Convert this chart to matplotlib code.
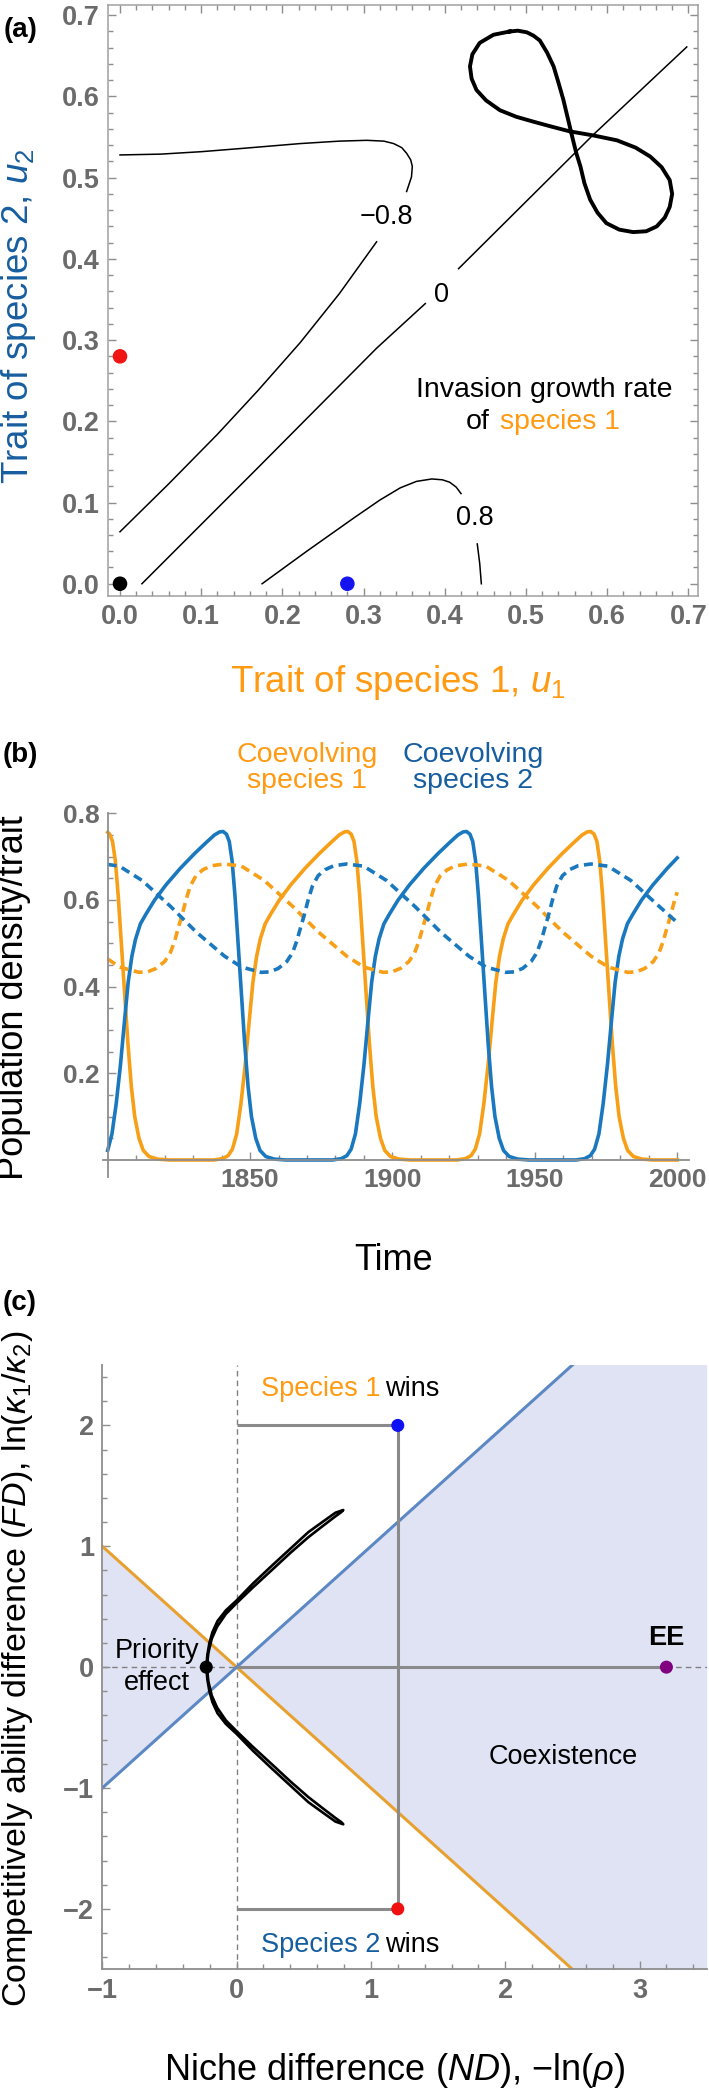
import matplotlib
matplotlib.use("Agg")
import numpy as np
import matplotlib.pyplot as plt
from matplotlib.ticker import MultipleLocator, FixedLocator

plt.rcParams["font.family"] = ["Liberation Sans", "DejaVu Sans"]
plt.rcParams["mathtext.fontset"] = "custom"
plt.rcParams["mathtext.rm"] = "Liberation Sans"
plt.rcParams["mathtext.it"] = "Liberation Sans:italic"
plt.rcParams["mathtext.bf"] = "Liberation Sans:bold"
plt.rcParams["lines.scale_dashes"] = False

# ---------------- panel (a): invasion growth rate contours ----------------
neg08_upper_x = [0.0, 0.05, 0.10, 0.15, 0.222, 0.27, 0.304, 0.325, 0.337, 0.347, 0.353, 0.358, 0.360, 0.359, 0.353]
neg08_upper_y = [0.528, 0.529, 0.532, 0.536, 0.542, 0.545, 0.546, 0.545, 0.542, 0.537, 0.530, 0.522, 0.514, 0.501, 0.483]
neg08_lower_x = [0.0, 0.06, 0.12, 0.17, 0.222, 0.27, 0.316]
neg08_lower_y = [0.064, 0.123, 0.184, 0.238, 0.297, 0.357, 0.421]
zero_lower_x = [0.027, 0.17, 0.316, 0.376]
zero_lower_y = [0.0, 0.143, 0.290, 0.345]
zero_upper_x = [0.417, 0.583, 0.698]
zero_upper_y = [0.388, 0.553, 0.661]
pos08_x = [0.175, 0.23, 0.288, 0.320, 0.345, 0.365, 0.384, 0.397, 0.406, 0.414, 0.420]
pos08_y = [0.0, 0.040, 0.081, 0.103, 0.118, 0.126, 0.129, 0.128, 0.125, 0.119, 0.111]
pos08_stub_x = [0.440, 0.443, 0.445]
pos08_stub_y = [0.049, 0.025, 0.0]
contour_labels = ["\u22120.8", "0", "0.8"]
contour_label_x = [0.328, 0.396, 0.437]
contour_label_y = [0.452, 0.3555, 0.081]

# coevolutionary cycle of the traits (figure eight)
eight_u1 = [0.480, 0.460, 0.443, 0.434, 0.431, 0.433, 0.439, 0.451, 0.468, 0.488, 0.509, 0.531,
            0.554, 0.583, 0.612, 0.635, 0.653, 0.667, 0.677, 0.680, 0.677, 0.671, 0.661, 0.648,
            0.632, 0.615, 0.599, 0.588, 0.579, 0.572, 0.567, 0.562, 0.558, 0.552, 0.546, 0.540,
            0.534, 0.526, 0.517, 0.509, 0.501, 0.490, 0.480]
eight_u2 = [0.680, 0.676, 0.666, 0.652, 0.637, 0.622, 0.608, 0.595, 0.583, 0.575, 0.569, 0.563,
            0.557, 0.552, 0.546, 0.537, 0.526, 0.513, 0.497, 0.480, 0.464, 0.451, 0.440, 0.434,
            0.433, 0.436, 0.444, 0.457, 0.473, 0.493, 0.514, 0.530, 0.546, 0.571, 0.596, 0.617,
            0.637, 0.654, 0.669, 0.675, 0.679, 0.681, 0.680]
dots_a_x = [0.0, 0.0, 0.28]
dots_a_y = [0.0, 0.28, 0.0]
dots_a_c = ["black", "#F01414", "#1414F0"]

# ---------------- panel (b): time series ----------------
t_n1 = [1800.0, 1800.7, 1801.7, 1802.7, 1803.7, 1804.8, 1806.0, 1807.1, 1808.3, 1809.5, 1811.0, 1812.5,
        1814.5, 1817.5, 1821.5, 1837.3, 1840.3, 1842.3, 1843.8, 1845.3, 1846.8, 1848.3, 1849.7, 1851.0,
        1852.3, 1853.6, 1855.3, 1857.3, 1860.3, 1864.3, 1869.3, 1874.3, 1878.3, 1881.3, 1883.1, 1884.3,
        1885.5, 1886.5, 1887.5, 1888.5, 1889.6, 1890.8, 1891.9, 1893.1, 1894.3, 1895.8, 1897.3, 1899.3,
        1902.3, 1906.3, 1922.6, 1925.6, 1927.6, 1929.1, 1930.6, 1932.1, 1933.6, 1935.0, 1936.3, 1937.6,
        1938.9, 1940.6, 1942.6, 1945.6, 1949.6, 1954.6, 1959.6, 1963.6, 1966.6, 1968.4, 1969.6, 1970.8,
        1971.8, 1972.8, 1973.8, 1974.9, 1976.1, 1977.2, 1978.4, 1979.6, 1981.1, 1982.6, 1984.6, 1987.6,
        1991.6, 2000.0]
n1 = [0.756, 0.752, 0.735, 0.69, 0.61, 0.50, 0.38, 0.27, 0.17, 0.10, 0.05, 0.022,
      0.008, 0.002, 0.0, 0.0, 0.003, 0.01, 0.025, 0.06, 0.13, 0.22, 0.32, 0.41,
      0.47, 0.51, 0.545, 0.568, 0.60, 0.635, 0.673, 0.707, 0.732, 0.750, 0.757, 0.758,
      0.752, 0.735, 0.69, 0.61, 0.50, 0.38, 0.27, 0.17, 0.10, 0.05, 0.022, 0.008,
      0.002, 0.0, 0.0, 0.003, 0.01, 0.025, 0.06, 0.13, 0.22, 0.32, 0.41, 0.47,
      0.51, 0.545, 0.568, 0.60, 0.635, 0.673, 0.707, 0.732, 0.750, 0.757, 0.758, 0.752,
      0.735, 0.69, 0.61, 0.50, 0.38, 0.27, 0.17, 0.10, 0.05, 0.022, 0.008, 0.002,
      0.0, 0.0]
t_n2 = [1800.0, 1801.5, 1803.0, 1804.5, 1805.9, 1807.2, 1808.5, 1809.8, 1811.5, 1813.5, 1816.5, 1820.5,
        1825.5, 1830.5, 1834.5, 1837.5, 1839.3, 1840.5, 1841.7, 1842.7, 1843.7, 1844.7, 1845.8, 1847.0,
        1848.1, 1849.3, 1850.5, 1852.0, 1853.5, 1855.5, 1858.5, 1862.5, 1879.0, 1882.0, 1884.0, 1885.5,
        1887.0, 1888.5, 1890.0, 1891.4, 1892.7, 1894.0, 1895.3, 1897.0, 1899.0, 1902.0, 1906.0, 1911.0,
        1916.0, 1920.0, 1923.0, 1924.8, 1926.0, 1927.2, 1928.2, 1929.2, 1930.2, 1931.3, 1932.5, 1933.6,
        1934.8, 1936.0, 1937.5, 1939.0, 1941.0, 1944.0, 1948.0, 1964.5, 1967.5, 1969.5, 1971.0, 1972.5,
        1974.0, 1975.5, 1976.9, 1978.2, 1979.5, 1980.8, 1982.5, 1984.5, 1987.5, 1991.5, 1996.5, 2000.0]
n2 = [0.022, 0.06, 0.13, 0.22, 0.32, 0.41, 0.47, 0.51, 0.545, 0.568, 0.60, 0.635,
      0.673, 0.707, 0.732, 0.750, 0.757, 0.758, 0.752, 0.735, 0.69, 0.61, 0.50, 0.38,
      0.27, 0.17, 0.10, 0.05, 0.022, 0.008, 0.002, 0.0, 0.0, 0.003, 0.01, 0.025,
      0.06, 0.13, 0.22, 0.32, 0.41, 0.47, 0.51, 0.545, 0.568, 0.60, 0.635, 0.673,
      0.707, 0.732, 0.750, 0.757, 0.758, 0.752, 0.735, 0.69, 0.61, 0.50, 0.38, 0.27,
      0.17, 0.10, 0.05, 0.022, 0.008, 0.002, 0.0, 0.0, 0.003, 0.01, 0.025, 0.06,
      0.13, 0.22, 0.32, 0.41, 0.47, 0.51, 0.545, 0.568, 0.60, 0.635, 0.673, 0.697]
t_u1 = [1800.0, 1804.2, 1811.0, 1814.0, 1817.0, 1820.0, 1822.0, 1823.5, 1825.0, 1826.0, 1827.5, 1829.0,
        1831.0, 1833.5, 1836.5, 1841.0, 1847.0, 1855.0, 1865.0, 1874.0, 1884.0, 1890.0, 1896.8, 1899.8,
        1902.8, 1905.8, 1907.8, 1909.3, 1910.8, 1911.8, 1913.3, 1914.8, 1916.8, 1919.3, 1922.3, 1926.8,
        1932.8, 1940.8, 1950.8, 1959.8, 1969.8, 1975.8, 1982.6, 1985.6, 1988.6, 1991.6, 1993.6, 1995.1,
        1996.6, 1997.6, 1999.1, 2000.0]
u1 = [0.464, 0.445, 0.433, 0.434, 0.442, 0.458, 0.478, 0.505, 0.540, 0.562, 0.600, 0.632,
      0.656, 0.670, 0.679, 0.683, 0.678, 0.645, 0.585, 0.526, 0.470, 0.445, 0.433, 0.434,
      0.442, 0.458, 0.478, 0.505, 0.540, 0.562, 0.600, 0.632, 0.656, 0.670, 0.679, 0.683,
      0.678, 0.645, 0.585, 0.526, 0.470, 0.445, 0.433, 0.434, 0.442, 0.458, 0.478, 0.505,
      0.540, 0.562, 0.600, 0.618]
t_u2 = [1800.0, 1804.1, 1812.1, 1822.1, 1831.1, 1841.1, 1847.1, 1853.9, 1856.9, 1859.9, 1862.9, 1864.9,
        1866.4, 1867.9, 1868.9, 1870.4, 1871.9, 1873.9, 1876.4, 1879.4, 1883.9, 1889.9, 1897.9, 1907.9,
        1916.9, 1926.9, 1932.9, 1939.7, 1942.7, 1945.7, 1948.7, 1950.7, 1952.2, 1953.7, 1954.7, 1956.2,
        1957.7, 1959.7, 1962.2, 1965.2, 1969.7, 1975.7, 1983.7, 1993.7, 2000.0]
u2 = [0.682, 0.678, 0.645, 0.585, 0.526, 0.470, 0.445, 0.433, 0.434, 0.442, 0.458, 0.478,
      0.505, 0.540, 0.562, 0.600, 0.632, 0.656, 0.670, 0.679, 0.683, 0.678, 0.645, 0.585,
      0.526, 0.470, 0.445, 0.433, 0.434, 0.442, 0.458, 0.478, 0.505, 0.540, 0.562, 0.600,
      0.632, 0.656, 0.670, 0.679, 0.683, 0.678, 0.645, 0.585, 0.548]

# ---------------- panel (c): coexistence plane ----------------
boundary_nd = [-1.0, 0.0, 3.5]
loop_nd = [-0.226, -0.218, -0.203, -0.18, -0.142, -0.08, 0.0, 0.12, 0.264, 0.40, 0.534, 0.65, 0.736, 0.794,
           0.78, 0.736, 0.65, 0.534, 0.40, 0.264, 0.12, 0.0, -0.08, -0.145, -0.185, -0.21, -0.222,
           -0.21, -0.185, -0.145, -0.08, 0.0, 0.12, 0.264, 0.40, 0.534, 0.65, 0.736, 0.78,
           0.794, 0.736, 0.65, 0.534, 0.40, 0.264, 0.12, 0.0, -0.08, -0.142, -0.18, -0.203, -0.218, -0.226]
loop_fd = [0.0, 0.10, 0.198, 0.29, 0.382, 0.47, 0.552, 0.69, 0.841, 0.98, 1.117, 1.21, 1.278, 1.30,
           1.283, 1.248, 1.175, 1.075, 0.945, 0.805, 0.658, 0.53, 0.44, 0.335, 0.235, 0.12, 0.0,
           -0.12, -0.235, -0.335, -0.44, -0.53, -0.658, -0.805, -0.945, -1.075, -1.175, -1.248, -1.283,
           -1.30, -1.278, -1.21, -1.117, -0.98, -0.841, -0.69, -0.552, -0.47, -0.382, -0.29, -0.198, -0.10, 0.0]
path_nd = [[0.0, 1.2], [1.2, 1.2], [0.0, 1.2], [0.0, 3.2]]
path_fd = [[2.0, 2.0], [2.0, -2.0], [-2.0, -2.0], [0.0, 0.0]]
dots_c_nd = [1.2, 1.2, 3.2, -0.226]
dots_c_fd = [2.0, -2.0, 0.0, 0.0]
dots_c_c = ["#1010F5", "#F01010", "#800080", "black"]

ORANGE = "#F79F17"
BLUE = "#1A78BE"
ORANGE_TXT = "#FF9A12"
BLUE_TXT = "#175E9F"
TICK_C = "#6B6B6B"
AX_C = "#8E8E8E"

W, H = 709, 2093
fig = plt.figure(figsize=(W / 100, H / 100), dpi=100)


def box(left, top, right, bottom):
    return [left / W, 1 - bottom / H, (right - left) / W, (bottom - top) / H]


def ftext(x, y, s, **kw):
    fig.text(x / W, 1 - y / H, s, **kw)


def style_ticks(ax, size=19.5, **kw):
    ax.tick_params(which="both", direction="in", color=AX_C, width=1.0,
                   labelsize=size, labelcolor=TICK_C, pad=6, **kw)
    ax.tick_params(which="major", length=6)
    ax.tick_params(which="minor", length=3.5)
    for lab in ax.get_xticklabels() + ax.get_yticklabels():
        lab.set_fontweight("bold")


# ---- (a)
ax = fig.add_axes(box(108.3, 4.7, 698.3, 596))
ax.plot(neg08_upper_x, neg08_upper_y, color="black", lw=1.1)
ax.plot(neg08_lower_x, neg08_lower_y, color="black", lw=1.1)
ax.plot(zero_lower_x, zero_lower_y, color="black", lw=1.1)
ax.plot(zero_upper_x, zero_upper_y, color="black", lw=1.1)
ax.plot(pos08_x, pos08_y, color="black", lw=1.1)
ax.plot(pos08_stub_x, pos08_stub_y, color="black", lw=1.1)
for s, x, y in zip(contour_labels, contour_label_x, contour_label_y):
    ax.text(x, y, s, fontsize=19.5, ha="center", va="center")
ax.plot(eight_u1, eight_u2, color="black", lw=2.8, solid_joinstyle="round")
ax.scatter(dots_a_x, dots_a_y, c=dots_a_c, s=90, zorder=5, clip_on=False)
ax.text(0.523, 0.238, "Invasion growth rate", fontsize=20.5, ha="center", va="center")
ax.text(0.426, 0.199, "of", fontsize=20.5, ha="left", va="center")
ax.text(0.468, 0.199, "species 1", fontsize=20.5, ha="left", va="center", color=ORANGE_TXT)
ax.set_xlim(-0.0144, 0.7122)
ax.set_ylim(-0.0151, 0.7130)
ax.xaxis.set_minor_locator(MultipleLocator(0.02))
ax.yaxis.set_minor_locator(MultipleLocator(0.02))
ax.set_xticks(np.arange(0, 0.71, 0.1))
ax.set_xticklabels(["0.0", "0.1", "0.2", "0.3", "0.4", "0.5", "0.6", "0.7"])
ax.set_yticks(np.arange(0, 0.71, 0.1))
ax.set_yticklabels(["0.0", "0.1", "0.2", "0.3", "0.4", "0.5", "0.6", "0.7"])
for sp in ax.spines.values():
    sp.set_color("#A0A0A0")
    sp.set_linewidth(1.1)
style_ticks(ax, top=True, right=True)

ftext(4, 30, "(a)", fontsize=20, fontweight="bold", va="center", ha="left")
ftext(398, 683, "Trait of species 1, $u_1$", fontsize=26.5, color=ORANGE_TXT, ha="center", va="center")
ftext(19, 316, "Trait of species 2, $u_2$", fontsize=26.5, color=BLUE_TXT, ha="center", va="center",
      rotation=90)

# ---- (b)
ax = fig.add_axes(box(103.4, 813.3, 688.6, 1177.3))
ax.plot(t_n1, n1, color=ORANGE, lw=2.6, solid_joinstyle="round")
ax.plot(t_n2, n2, color=BLUE, lw=2.6, solid_joinstyle="round")
ax.plot(t_u1, u1, color=ORANGE, lw=2.6, dashes=(6.5, 4))
ax.plot(t_u2, u2, color=BLUE, lw=2.6, dashes=(6.5, 4))
ax.set_xlim(1798.5, 2004.0)
ax.set_ylim(-0.04, 0.8)
ax.spines["left"].set_position(("data", 1800))
ax.spines["bottom"].set_position(("data", 0))
ax.spines["top"].set_visible(False)
ax.spines["right"].set_visible(False)
for sp in ("left", "bottom"):
    ax.spines[sp].set_color(AX_C)
    ax.spines[sp].set_linewidth(1.3)
ax.xaxis.set_major_locator(FixedLocator([1850, 1900, 1950, 2000]))
ax.xaxis.set_minor_locator(FixedLocator([t for t in range(1810, 2000, 10) if t % 50]))
ax.yaxis.set_major_locator(FixedLocator([0.2, 0.4, 0.6, 0.8]))
ax.yaxis.set_minor_locator(FixedLocator([0.05, 0.1, 0.15, 0.25, 0.3, 0.35, 0.45, 0.5, 0.55, 0.65, 0.7, 0.75]))
ax.set_xticklabels(["1850", "1900", "1950", "2000"])
ax.set_yticklabels(["0.2", "0.4", "0.6", "0.8"])
style_ticks(ax, size=19)

ftext(3, 755, "(b)", fontsize=20, fontweight="bold", va="center", ha="left")
ftext(307, 768, "Coevolving\nspecies 1", fontsize=20.5, color=ORANGE_TXT, ha="center", va="center",
      linespacing=1.05)
ftext(473, 768, "Coevolving\nspecies 2", fontsize=20.5, color=BLUE_TXT, ha="center", va="center",
      linespacing=1.05)
ftext(14, 998, "Population density/trait", fontsize=26, ha="center", va="center", rotation=90)
ftext(394, 1261, "Time", fontsize=26, ha="center", va="center")

# ---- (c)
ax = fig.add_axes(box(102.3, 1365, 706.7, 1969.3))
bx = np.array(boundary_nd)
ax.fill_between(bx, -np.abs(bx), np.abs(bx), color="#E0E3F3", lw=0, zorder=0)
ax.plot(bx, -bx, color="#E8A130", lw=2.2, zorder=2)
ax.plot(bx, bx, color="#5C88C4", lw=2.2, zorder=2)
ax.axvline(0, color="#808080", lw=1.0, dashes=(4, 3), zorder=1)
ax.axhline(0, color="#808080", lw=1.0, dashes=(4, 3), zorder=1)
for xs, ys in zip(path_nd, path_fd):
    ax.plot(xs, ys, color="#8A8A8A", lw=2.2, zorder=3, solid_capstyle="butt")
ax.plot(loop_nd, loop_fd, color="black", lw=1.9, zorder=4, solid_joinstyle="round")
ax.scatter(dots_c_nd, dots_c_fd, c=dots_c_c, s=70, zorder=6)
ax.text(0.179, 2.30, "Species 1", fontsize=19.5, color=ORANGE_TXT, ha="left", va="center")
ax.text(1.108, 2.30, "wins", fontsize=19.5, ha="left", va="center")
ax.text(0.179, -2.30, "Species 2", fontsize=19.5, color=BLUE_TXT, ha="left", va="center")
ax.text(1.108, -2.30, "wins", fontsize=19.5, ha="left", va="center")
ax.text(-0.59, 0.13, "Priority", fontsize=19.5, ha="center", va="center")
ax.text(-0.59, -0.133, "effect", fontsize=19.5, ha="center", va="center")
ax.text(2.43, -0.745, "Coexistence", fontsize=19.5, ha="center", va="center")
ax.text(3.2, 0.245, "EE", fontsize=19.5, fontweight="bold", ha="center", va="center")
ax.set_xlim(-1, 3.5)
ax.set_ylim(-2.5, 2.5)
ax.spines["top"].set_visible(False)
ax.spines["right"].set_visible(False)
for sp in ("left", "bottom"):
    ax.spines[sp].set_color(AX_C)
    ax.spines[sp].set_linewidth(1.3)
ax.xaxis.set_major_locator(FixedLocator([-1, 0, 1, 2, 3]))
ax.xaxis.set_minor_locator(MultipleLocator(0.2))
ax.yaxis.set_major_locator(FixedLocator([-2, -1, 0, 1, 2]))
ax.yaxis.set_minor_locator(MultipleLocator(0.2))
ax.set_xticklabels(["\u22121", "0", "1", "2", "3"])
ax.set_yticklabels(["\u22122", "\u22121", "0", "1", "2"])
style_ticks(ax)

ftext(3, 1303, "(c)", fontsize=20, fontweight="bold", va="center", ha="left")
ftext(18, 1669, r"Competitively ability difference ($\mathit{FD}$), ln($\kappa_1$/$\kappa_2$)",
      fontsize=24.5, ha="center", va="center", rotation=90)
ftext(395, 2070, "Niche difference ($\\mathit{ND}$), \u2212ln($\\rho$)", fontsize=26,
      ha="center", va="center")

fig.savefig("out.png", dpi=100)
